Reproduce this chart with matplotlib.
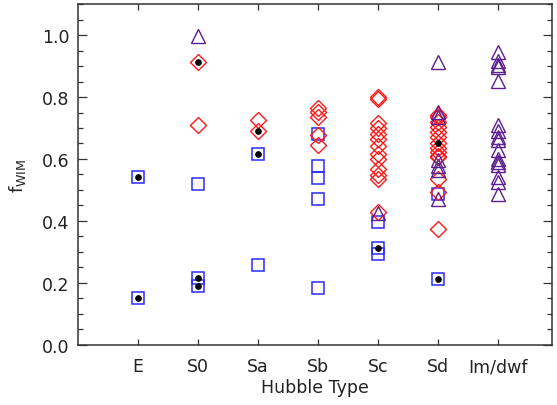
import matplotlib

matplotlib.use("Agg")

import matplotlib.pyplot as plt
from matplotlib.ticker import MultipleLocator

# Hubble type categories, x positions 1..7
types = ["E", "S0", "Sa", "Sb", "Sc", "Sd", "Im/dwf"]

# f_WIM values, one list per type
squares = {
    "E": [0.540, 0.151],
    "S0": [0.520, 0.215, 0.190],
    "Sa": [0.617, 0.258],
    "Sb": [0.679, 0.578, 0.537, 0.472, 0.184],
    "Sc": [0.396, 0.313, 0.293],
    "Sd": [0.488, 0.212],
}
diamonds = {
    "S0": [0.912, 0.711],
    "Sa": [0.725, 0.690],
    "Sb": [0.765, 0.752, 0.737, 0.677, 0.646],
    "Sc": [0.800, 0.795, 0.715, 0.701, 0.682, 0.664, 0.642, 0.617, 0.601,
           0.569, 0.549, 0.534, 0.428],
    "Sd": [0.742, 0.737, 0.720, 0.704, 0.688, 0.672, 0.652, 0.634, 0.623,
           0.610, 0.605, 0.536, 0.493, 0.374],
}
triangles = {
    "S0": [0.996],
    "Sc": [0.425],
    "Sd": [0.912, 0.753, 0.737, 0.596, 0.578, 0.563, 0.471],
    "Im/dwf": [0.947, 0.915, 0.905, 0.896, 0.852, 0.711, 0.690, 0.672, 0.661,
               0.628, 0.600, 0.591, 0.580, 0.542, 0.526, 0.485],
}
dots = {
    "E": [0.540, 0.151],
    "S0": [0.912, 0.215, 0.190],
    "Sa": [0.690, 0.617],
    "Sc": [0.313],
    "Sd": [0.652, 0.212],
}

BLUE = "#2a2aff"
RED = "#ff1a1a"
PURPLE = "#5c1f8f"
AXIS = "#333333"

plt.rcParams["font.family"] = ["DejaVu Sans"]
plt.rcParams["mathtext.default"] = "regular"

fig = plt.figure(figsize=(5.57, 4.06), dpi=100)
ax = fig.add_axes([0.140, 0.149, 0.851, 0.838])


def scatter_group(groups, **kwargs):
    for name, vals in groups.items():
        x = [types.index(name) + 1] * len(vals)
        ax.plot(x, vals, linestyle="none", **kwargs)


scatter_group(squares, marker="s", markersize=9, markerfacecolor="none",
              markeredgecolor=BLUE, markeredgewidth=1.1)
scatter_group(diamonds, marker="D", markersize=8, markerfacecolor="none",
              markeredgecolor=RED, markeredgewidth=1.0)
scatter_group(triangles, marker="^", markersize=9.5, markerfacecolor="none",
              markeredgecolor=PURPLE, markeredgewidth=1.0)
scatter_group(dots, marker="o", markersize=3.8, color="black")

ax.set_xlim(0, 7.9)
ax.set_ylim(0, 1.1)
ax.set_xticks(range(1, len(types) + 1))
ax.set_xticklabels(types)
ax.yaxis.set_major_locator(MultipleLocator(0.2))
ax.yaxis.set_minor_locator(MultipleLocator(0.05))
ax.yaxis.set_major_formatter(plt.FormatStrFormatter("%.1f"))

ax.tick_params(axis="both", which="both", direction="in", colors=AXIS,
               labelcolor="#222222", labelsize=12.5, top=True, right=True)
ax.tick_params(axis="y", which="major", length=6.5, width=0.9, pad=6)
ax.tick_params(axis="y", which="minor", length=3.5, width=0.9)
ax.tick_params(axis="x", which="major", length=4.5, width=0.9, pad=9)
ax.tick_params(axis="y", labelright=False)

for side in ax.spines.values():
    side.set_color(AXIS)
    side.set_linewidth(1.1)

ax.set_xlabel("Hubble Type", fontsize=12.5, color="#222222", labelpad=2)
ax.set_ylabel("f$_{WIM}$", fontsize=13, color="#222222", labelpad=10)

fig.savefig("out.png", dpi=100)
